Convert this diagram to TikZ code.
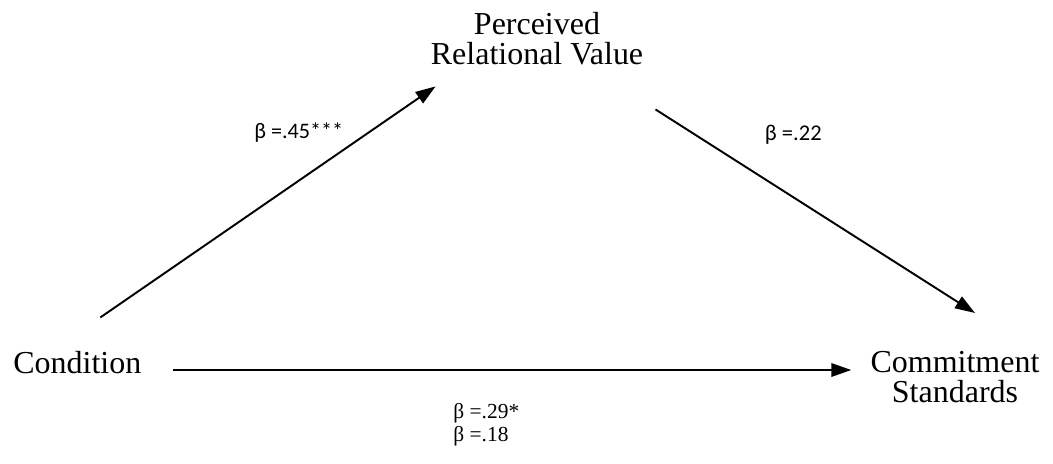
\documentclass[tikz,border=0pt]{standalone}
\usepackage{fontspec}
\setmainfont{Liberation Serif}
\newfontfamily\calibrifont{Carlito}
\usepackage{tikz}
\usetikzlibrary{arrows.meta,positioning}

\begin{document}
\begin{tikzpicture}[x=0.02cm,y=-0.02cm,>={Triangle[length=0.4cm,width=0.27cm]},
  varbox/.style={inner sep=0pt,font=\fontsize{18.2}{17.1}\selectfont,align=center},
  coef/.style={inner sep=0pt,font=\fontsize{12.2}{13}\selectfont},
  path/.style={->,line width=1.1pt}]
  \useasboundingbox (0,0) rectangle (1053,463);
  % variables
  \node[varbox,anchor=north] (prv) at (537,12) {Perceived\\Relational Value};
  \node[varbox,anchor=base west] (cond) at (13,373) {Condition};
  \node[varbox,anchor=north] (cs) at (955,351) {Commitment\\Standards};
  % paths
  \coordinate (h2) at (cond.base -| cs.west);
  \draw[path] ([shift={(23,-33)}]cond.north) -- ([shift={(5,21)}]prv.south west);
  \draw[path] ([shift={(12,44)}]prv.south east) -- ([shift={(20,-38)}]cs.north);
  \draw[path] ([shift={(31,-3)}]cond.base east) -- ([shift={(-19,-3)}]h2);
  % coefficients
  \node[coef,anchor=base west,font=\calibrifont\fontsize{12.6}{13}\selectfont] (b1) at (254,138) {β =.45***};
  \node[coef,anchor=base east,font=\calibrifont\fontsize{12.8}{13}\selectfont] (b2) at (822,140) {β =.22};
  \node[coef,anchor=base west] (b3) at (453,418) {β =.29*};
  \node[coef,anchor=base west] (b4) at (453,441) {β =.18};
\end{tikzpicture}
\end{document}
